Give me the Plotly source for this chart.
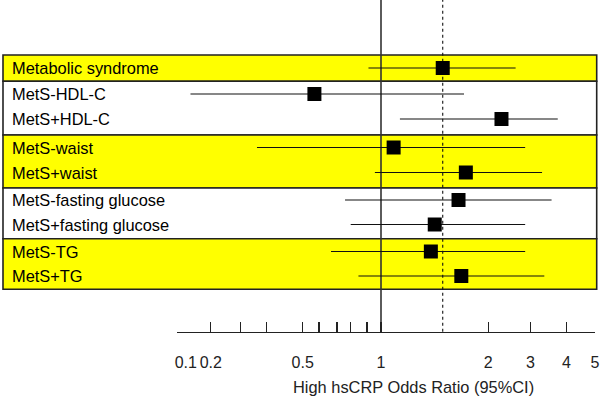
import numpy as np
import plotly.graph_objects as go

# ---------------- data ----------------
labels = ["Metabolic syndrome", "MetS-HDL-C", "MetS+HDL-C", "MetS-waist", "MetS+waist",
          "MetS-fasting glucose", "MetS+fasting glucose", "MetS-TG", "MetS+TG"]
odds_ratio = [1.49, 0.57, 2.27, 1.085, 1.73, 1.65, 1.415, 1.38, 1.68]
ci_low = [0.91, 0.132, 1.13, 0.36, 0.955, 0.757, 0.80, 0.665, 0.846]
ci_high = [2.60, 1.71, 3.73, 2.85, 3.29, 3.55, 2.85, 2.85, 3.35]
group = [0, 1, 1, 2, 2, 3, 3, 4, 4]
reference_or = 1.0
overall_or = odds_ratio[0]

tick_vals = [0.1, 0.2, 0.3, 0.4, 0.5, 0.6, 0.7, 0.8, 0.9, 1, 2, 3, 4, 5]
tick_text = ["\u00a0\u00a0\u00a0\u00a00.1", "0.2", "", "", "0.5", "", "", "", "", "1", "2", "3", "4", "5"]
x_title = "High hsCRP Odds Ratio (95%CI)"

# ---------------- layout constants (hand-drawn axis of the original) ----------------
W, H = 600, 404
TICK_POS = [176.9, 210.8, 240.5, 266.5, 302.7, 319.0, 337.0, 350.7, 367.0, 381.0, 488.3, 530.5, 566.5, 595.0]
ROW_Y = [68, 94, 119, 147.5, 172.5, 200, 224.5, 251.5, 276]
BAND_EDGES = [55, 81.3, 135, 188, 238.7, 289.3]
BAND_FILL = ["#FFFF00", "#FFFFFF", "#FFFF00", "#FFFFFF", "#FFFF00"]
AXIS_Y = 331.7
BOX_X0, BOX_X1 = 3, 596.7
FONT = "Arial, Liberation Sans, sans-serif"


def to_axis(v):
    return np.interp(np.log(np.asarray(v, dtype=float)), np.log(tick_vals), TICK_POS)


x_or = to_axis(odds_ratio)
x_lo = to_axis(ci_low)
x_hi = to_axis(ci_high)

fig = go.Figure()
fig.add_trace(go.Scatter(
    x=x_or, y=ROW_Y, mode="markers",
    marker=dict(symbol="square", size=14, color="black", line=dict(width=0)),
    error_x=dict(type="data", symmetric=False, array=x_hi - x_or, arrayminus=x_or - x_lo,
                 width=0, thickness=1.1, color="#111"),
    showlegend=False, hoverinfo="skip", cliponaxis=False,
))

shapes = []
for g in range(len(BAND_FILL)):
    shapes.append(dict(type="rect", xref="paper", yref="y",
                       x0=BOX_X0 / W, x1=BOX_X1 / W, y0=BAND_EDGES[g], y1=BAND_EDGES[g + 1],
                       fillcolor=BAND_FILL[g], line=dict(color="#222", width=1.6), layer="below"))
y_axis_paper = (H - AXIS_Y) / H
shapes.append(dict(type="line", xref="x", yref="paper", x0=float(to_axis(reference_or)),
                   x1=float(to_axis(reference_or)), y0=y_axis_paper, y1=1,
                   line=dict(color="#333", width=1.6), layer="below"))
shapes.append(dict(type="line", xref="x", yref="paper", x0=float(to_axis(overall_or)),
                   x1=float(to_axis(overall_or)), y0=y_axis_paper, y1=1,
                   line=dict(color="#111", width=1.1, dash="dot"), layer="below"))

annotations = []
for lab, y in zip(labels, ROW_Y):
    annotations.append(dict(text=lab, xref="paper", yref="y", x=10 / W, y=y,
                            xanchor="left", yanchor="middle", showarrow=False,
                            font=dict(family=FONT, size=16.4, color="black")))
annotations.append(dict(text=x_title, xref="paper", yref="paper", x=414 / W, y=(H - 387) / H,
                        xanchor="center", yanchor="middle", showarrow=False,
                        font=dict(family=FONT, size=16.4, color="#222")))

fig.update_layout(
    width=W, height=H, margin=dict(l=0, r=0, t=0, b=0, autoexpand=False),
    paper_bgcolor="white", plot_bgcolor="rgba(0,0,0,0)",
    shapes=shapes, annotations=annotations,
    xaxis=dict(domain=[TICK_POS[0] / W, TICK_POS[-1] / W], range=[TICK_POS[0], TICK_POS[-1]],
               tickmode="array", tickvals=TICK_POS, ticktext=tick_text,
               ticks="inside", ticklen=10, tickwidth=1.3, tickcolor="#222",
               showline=True, linecolor="#222", linewidth=1.3, mirror=False,
               showgrid=False, zeroline=False, ticklabelstandoff=16, automargin=False,
               tickfont=dict(family=FONT, size=16, color="#222"), fixedrange=True),
    yaxis=dict(domain=[y_axis_paper, 1], range=[AXIS_Y, 0], visible=False, fixedrange=True),
)

fig.write_html("out.html", config={"displayModeBar": False, "staticPlot": True},
               post_script="document.body.style.margin='0px';document.body.style.padding='0px';")
